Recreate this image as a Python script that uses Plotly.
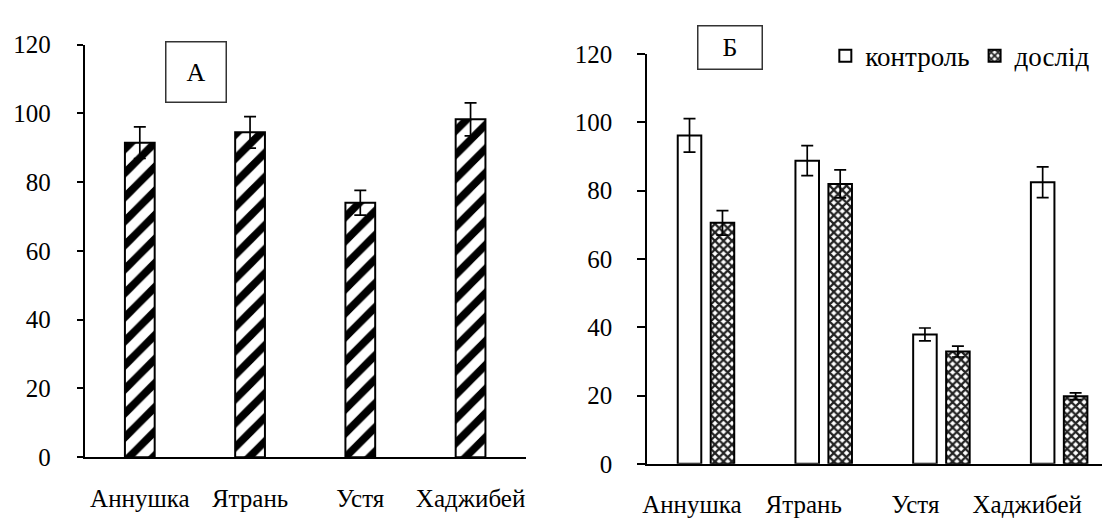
import plotly.graph_objects as go

categories = ["Аннушка", "Ятрань", "Устя", "Хаджибей"]

# Panel A
values_a = [91.5, 94.5, 74.0, 98.3]
errors_a = [4.6, 4.6, 3.6, 4.8]

# Panel Б
control_vals = [96.2, 88.8, 37.9, 82.5]
control_errs = [4.9, 4.4, 1.9, 4.5]
exp_vals = [70.6, 82.0, 32.9, 19.8]
exp_errs = [3.6, 4.1, 1.6, 1.0]

series_names = ["контроль", "дослід"]
panel_labels = ["А", "Б"]

W, H = 1110, 522
FONT = "Liberation Serif"

err_style = dict(type="data", color="black", thickness=1.7, width=6, visible=True)

fig = go.Figure()

fig.add_trace(go.Bar(
    x=categories, y=values_a,
    error_y=dict(array=errors_a, **err_style),
    marker=dict(color="white", line=dict(color="black", width=2),
                pattern=dict(shape="/", fgcolor="black", bgcolor="white",
                             fgopacity=1, size=17, solidity=0.45)),
    width=0.27, offset=-0.135,
    xaxis="x", yaxis="y", showlegend=False,
))

fig.add_trace(go.Bar(
    x=categories, y=control_vals, name=series_names[0],
    error_y=dict(array=control_errs, **err_style),
    marker=dict(color="white", line=dict(color="black", width=2)),
    width=0.2, offset=-0.24,
    xaxis="x2", yaxis="y2",
))

fig.add_trace(go.Bar(
    x=categories, y=exp_vals, name=series_names[1],
    error_y=dict(array=exp_errs, **err_style),
    marker=dict(color="white", line=dict(color="black", width=2),
                pattern=dict(shape="x", fgcolor="#222", bgcolor="white",
                             fgopacity=1, size=6, solidity=0.6)),
    width=0.2, offset=0.04,
    xaxis="x2", yaxis="y2",
))

# invisible helper trace so the category-label axis of panel Б is drawn
fig.add_trace(go.Scatter(
    x=list(range(len(categories))), y=control_vals, mode="markers",
    marker=dict(opacity=0, size=1), hoverinfo="skip",
    xaxis="x3", yaxis="y2", showlegend=False,
))

tickfont = dict(family=FONT, size=25, color="black")
axis_common = dict(showline=True, linecolor="black", linewidth=1.7,
                   showgrid=False, zeroline=False, tickfont=tickfont)

fig.update_layout(
    width=W, height=H,
    paper_bgcolor="white", plot_bgcolor="white",
    margin=dict(l=0, r=0, t=0, b=0),
    barmode="group",
    font=dict(family=FONT, size=25, color="black"),
    xaxis=dict(domain=[72 / W, 515 / W], anchor="y", type="category",
               range=[-0.5, 3.5], ticks="", ticklabelstandoff=18, **axis_common),
    yaxis=dict(domain=[(H - 460) / H, (H - 25) / H], anchor="x",
               range=[0, 120], dtick=20, ticks="outside", ticklen=6,
               tickwidth=1.7, tickcolor="black", ticklabelstandoff=21, **axis_common),
    xaxis2=dict(domain=[637 / W, 1.0], anchor="y2", type="category",
                range=[-0.5, 3.5], ticks="", showticklabels=False, **axis_common),
    # label axis for panel Б (category names, slightly narrower spacing as in the original)
    xaxis3=dict(domain=[637 / W, 1.0], anchor="y2", overlaying="x2", side="bottom",
                type="linear", range=[-0.40, 3.812], tickmode="array",
                tickvals=list(range(len(categories))), ticktext=categories,
                ticks="", ticklabelstandoff=23, showline=False, showgrid=False,
                zeroline=False, tickfont=tickfont),
    yaxis2=dict(domain=[(H - 467) / H, (H - 35) / H], anchor="x2",
                range=[0, 120], dtick=20, ticks="outside", ticklen=8,
                tickwidth=1.7, tickcolor="black", ticklabelstandoff=20, **axis_common),
    legend=dict(orientation="h", x=816 / W, xanchor="left",
                y=(H - 37) / H, yanchor="middle",
                font=dict(family=FONT, size=27, color="black"),
                bgcolor="rgba(0,0,0,0)", itemwidth=30),
    annotations=[
        dict(text=panel_labels[0], xref="paper", yref="paper",
             x=184 / W, y=(H - 54) / H, xanchor="center", yanchor="middle",
             showarrow=False, width=59, height=59, borderpad=0,
             bordercolor="#333", borderwidth=1.5,
             font=dict(family=FONT, size=26, color="black")),
        dict(text=panel_labels[1], xref="paper", yref="paper",
             x=720 / W, y=(H - 28) / H, xanchor="center", yanchor="middle",
             showarrow=False, width=63, height=42, borderpad=0,
             bordercolor="#333", borderwidth=1.5,
             font=dict(family=FONT, size=26, color="black")),
    ],
)

fig.write_html("out.html")
